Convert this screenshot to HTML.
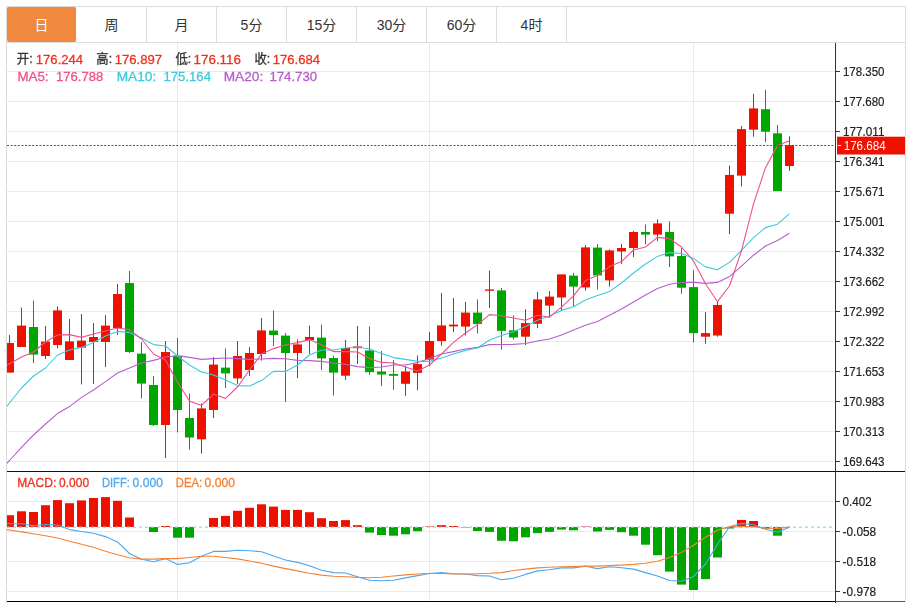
<!DOCTYPE html>
<html lang="zh-CN"><head><meta charset="utf-8"><title>K线图</title>
<style>
html,body{margin:0;padding:0;background:#fff}
body{width:910px;height:603px;position:relative;overflow:hidden;font-family:"Liberation Sans","Noto Sans CJK SC",sans-serif}
.tabs{position:absolute;left:6px;top:6px;width:898px;height:35px;border:1px solid #dcdcdc;background:#fff}
.tab{float:left;width:69px;height:34px;padding-top:1px;line-height:34px;border-right:1px solid #dcdcdc;text-align:center;font-size:14px;color:#333}
.tab.on{background:#f0883e;color:#fff;border-right-color:#fff;border-radius:2px}
</style></head><body>
<div class="tabs"><div class="tab on">日</div><div class="tab">周</div><div class="tab">月</div><div class="tab">5分</div><div class="tab">15分</div><div class="tab">30分</div><div class="tab">60分</div><div class="tab">4时</div></div>
<svg width="910" height="603" viewBox="0 0 910 603" style="position:absolute;left:0;top:0;will-change:transform;font-family:'Liberation Sans','Noto Sans CJK SC',sans-serif"><defs><clipPath id="cm"><rect x="7" y="43" width="828" height="428"/></clipPath><clipPath id="cd"><rect x="7" y="472" width="828" height="129"/></clipPath></defs><g fill="#e0ebf2" shape-rendering="crispEdges"><rect x="7" y="71" width="828" height="1"/><rect x="7" y="101" width="828" height="1"/><rect x="7" y="131" width="828" height="1"/><rect x="7" y="161" width="828" height="1"/><rect x="7" y="191" width="828" height="1"/><rect x="7" y="221" width="828" height="1"/><rect x="7" y="251" width="828" height="1"/><rect x="7" y="281" width="828" height="1"/><rect x="7" y="311" width="828" height="1"/><rect x="7" y="341" width="828" height="1"/><rect x="7" y="371" width="828" height="1"/><rect x="7" y="401" width="828" height="1"/><rect x="7" y="431" width="828" height="1"/><rect x="7" y="461" width="828" height="1"/><rect x="7" y="501" width="828" height="1"/><rect x="7" y="531" width="828" height="1"/><rect x="7" y="561" width="828" height="1"/><rect x="7" y="591" width="828" height="1"/><rect x="177" y="43" width="1" height="428"/><rect x="177" y="472" width="1" height="129"/><rect x="429" y="43" width="1" height="428"/><rect x="429" y="472" width="1" height="129"/><rect x="693" y="43" width="1" height="428"/><rect x="693" y="472" width="1" height="129"/></g>
<g clip-path="url(#cm)"><g fill="#ee1100"><rect x="9" y="335" width="1" height="37.6"/><rect x="5" y="343" width="9" height="29.6"/><rect x="21" y="307.6" width="1" height="39.4"/><rect x="17" y="325.6" width="9" height="21.4"/><rect x="45" y="326" width="1" height="33"/><rect x="41" y="341.6" width="9" height="14.4"/><rect x="57" y="306.4" width="1" height="42"/><rect x="53" y="310.4" width="9" height="34.6"/><rect x="69" y="319" width="1" height="41"/><rect x="65" y="341.4" width="9" height="18.6"/><rect x="81" y="314" width="1" height="70.4"/><rect x="77" y="340.6" width="9" height="7"/><rect x="93" y="323" width="1" height="61"/><rect x="89" y="337" width="9" height="5"/><rect x="105" y="315" width="1" height="52"/><rect x="101" y="325.6" width="9" height="16.4"/><rect x="117" y="284" width="1" height="51"/><rect x="113" y="294" width="9" height="34"/><rect x="165" y="341" width="1" height="117"/><rect x="161" y="352" width="9" height="73"/><rect x="201" y="403.5" width="1" height="50.1"/><rect x="197" y="408.4" width="9" height="30.9"/><rect x="213" y="357" width="1" height="61"/><rect x="209" y="364.6" width="9" height="45.4"/><rect x="237" y="341" width="1" height="43"/><rect x="233" y="356" width="9" height="22.4"/><rect x="249" y="347" width="1" height="29"/><rect x="245" y="353" width="9" height="17"/><rect x="261" y="318" width="1" height="42.6"/><rect x="257" y="330.4" width="9" height="23.6"/><rect x="297" y="339.4" width="1" height="38.6"/><rect x="293" y="344.4" width="9" height="8.6"/><rect x="309" y="325.6" width="1" height="28.4"/><rect x="305" y="337" width="9" height="3"/><rect x="345" y="340" width="1" height="39.8"/><rect x="341" y="348" width="9" height="27.7"/><rect x="357" y="326" width="1" height="38"/><rect x="353" y="346.4" width="9" height="1.8"/><rect x="405" y="366" width="1" height="29.8"/><rect x="401" y="371.5" width="9" height="12.3"/><rect x="417" y="355.5" width="1" height="34.7"/><rect x="413" y="364.1" width="9" height="8.8"/><rect x="429" y="332" width="1" height="34.3"/><rect x="425" y="341" width="9" height="18.6"/><rect x="441" y="293" width="1" height="52.6"/><rect x="437" y="325.4" width="9" height="15.6"/><rect x="453" y="298" width="1" height="34"/><rect x="449" y="324.6" width="9" height="1.8"/><rect x="465" y="302" width="1" height="33.6"/><rect x="461" y="312.6" width="9" height="14"/><rect x="489" y="270.6" width="1" height="37.4"/><rect x="485" y="289.4" width="9" height="1.4"/><rect x="525" y="309.2" width="1" height="35.8"/><rect x="521" y="323.1" width="9" height="13.6"/><rect x="537" y="291.8" width="1" height="36.2"/><rect x="533" y="299.4" width="9" height="24.4"/><rect x="549" y="291" width="1" height="26.6"/><rect x="545" y="296.6" width="9" height="9"/><rect x="561" y="274.4" width="1" height="35.6"/><rect x="557" y="274.4" width="9" height="23.1"/><rect x="585" y="245" width="1" height="45.6"/><rect x="581" y="247.4" width="9" height="40"/><rect x="609" y="249.4" width="1" height="37.2"/><rect x="605" y="250.4" width="9" height="30"/><rect x="621" y="244" width="1" height="20"/><rect x="617" y="248" width="9" height="3.4"/><rect x="633" y="231" width="1" height="26"/><rect x="629" y="232" width="9" height="16"/><rect x="657" y="219.4" width="1" height="21.6"/><rect x="653" y="223.4" width="9" height="11.2"/><rect x="705" y="312.2" width="1" height="31.6"/><rect x="701" y="333.1" width="9" height="3.6"/><rect x="717" y="301.7" width="1" height="35"/><rect x="713" y="305" width="9" height="30.5"/><rect x="729" y="165.6" width="1" height="68.4"/><rect x="725" y="174.9" width="9" height="38.8"/><rect x="741" y="126" width="1" height="60.4"/><rect x="737" y="129.1" width="9" height="46.5"/><rect x="753" y="93.9" width="1" height="42.8"/><rect x="749" y="108.4" width="9" height="21.3"/><rect x="789" y="136.3" width="1" height="34.6"/><rect x="785" y="145.2" width="9" height="20.8"/></g><g fill="#00a600"><rect x="33" y="300.6" width="1" height="62.4"/><rect x="29" y="327" width="9" height="27.6"/><rect x="129" y="271" width="1" height="82"/><rect x="125" y="283" width="9" height="69"/><rect x="141" y="342" width="1" height="56.4"/><rect x="137" y="353.6" width="9" height="30"/><rect x="153" y="376" width="1" height="50"/><rect x="149" y="385" width="9" height="40"/><rect x="177" y="338" width="1" height="94.4"/><rect x="173" y="356" width="9" height="54"/><rect x="189" y="393.5" width="1" height="56.2"/><rect x="185" y="418" width="9" height="19.5"/><rect x="225" y="348.4" width="1" height="39.6"/><rect x="221" y="367.6" width="9" height="5.8"/><rect x="273" y="310.4" width="1" height="35.6"/><rect x="269" y="330.6" width="9" height="4.4"/><rect x="285" y="333" width="1" height="69"/><rect x="281" y="335.6" width="9" height="17.4"/><rect x="321" y="324.6" width="1" height="45.4"/><rect x="317" y="337.6" width="9" height="20.8"/><rect x="333" y="355.6" width="1" height="40"/><rect x="329" y="358" width="9" height="14.6"/><rect x="369" y="326.4" width="1" height="48.5"/><rect x="365" y="350.5" width="9" height="21.7"/><rect x="381" y="351" width="1" height="35.2"/><rect x="377" y="371.5" width="9" height="3"/><rect x="393" y="360.2" width="1" height="29.6"/><rect x="389" y="374" width="9" height="1.8"/><rect x="477" y="299.4" width="1" height="34.2"/><rect x="473" y="312.6" width="9" height="11.4"/><rect x="501" y="288" width="1" height="61.7"/><rect x="497" y="290.4" width="9" height="40.4"/><rect x="513" y="315.3" width="1" height="24.2"/><rect x="509" y="330.3" width="9" height="7.2"/><rect x="573" y="273" width="1" height="33.6"/><rect x="569" y="275.6" width="9" height="11"/><rect x="597" y="244" width="1" height="45.6"/><rect x="593" y="247.6" width="9" height="27.8"/><rect x="645" y="224.4" width="1" height="20"/><rect x="641" y="232" width="9" height="2.6"/><rect x="669" y="221.4" width="1" height="45.6"/><rect x="665" y="232" width="9" height="24.4"/><rect x="681" y="248" width="1" height="45.7"/><rect x="677" y="256" width="9" height="31.7"/><rect x="693" y="270.2" width="1" height="72.2"/><rect x="689" y="287.1" width="9" height="46"/><rect x="765" y="89.9" width="1" height="52.1"/><rect x="761" y="109.2" width="9" height="22.5"/><rect x="777" y="125" width="1" height="66.1"/><rect x="773" y="133.3" width="9" height="57.8"/></g></g>
<g clip-path="url(#cm)"><polyline points="-2.5,473 9.5,460.5 21.5,447.4 33.5,435 45.5,424 57.5,413.6 69.5,406.6 81.5,397.4 93.5,390 105.5,381.6 117.5,373 129.5,368 141.5,363 153.5,360.4 165.5,357 177.5,355.6 189.5,357.4 201.5,359.4 213.5,358.6 225.5,358 237.5,358.6 249.5,359.4 261.5,359 273.5,358.4 285.5,358.8 297.5,360.4 309.5,360.6 321.5,361.4 333.5,363 345.5,364.2 357.5,366.6 369.5,367.6 381.5,367 393.5,365 405.5,365 417.5,362.6 429.5,358.6 441.5,354 453.5,351.6 465.5,349 477.5,347.4 489.5,344.6 501.5,344.5 513.5,344.4 525.5,343.5 537.5,341 549.5,339 561.5,334.9 573.5,330.1 585.5,325.3 597.5,321.5 609.5,315.3 621.5,309 633.5,302 645.5,295 657.5,288.4 669.5,284.3 681.5,282.5 693.5,282.4 705.5,283.4 717.5,282.4 729.5,276.6 741.5,266.1 753.5,255.2 765.5,246 777.5,240.5 789.5,233.2" fill="none" stroke="#b560cc" stroke-width="1.1" stroke-linejoin="round"/><polyline points="-2.5,418 9.5,403 21.5,388 33.5,376 45.5,368 57.5,355 69.5,350 81.5,347.4 93.5,342.4 105.5,336 117.5,331.4 129.5,332.4 141.5,338 153.5,344.6 165.5,346 177.5,356 189.5,365 201.5,372 213.5,375 225.5,380 237.5,385.6 249.5,386 261.5,380.6 273.5,371.4 285.5,371.4 297.5,365 309.5,355 321.5,350 333.5,350 345.5,348 357.5,347 369.5,349 381.5,353.6 393.5,357.6 405.5,359.4 417.5,361.4 429.5,361.4 441.5,358 453.5,354 465.5,350.4 477.5,348 489.5,340 501.5,335.6 513.5,331.7 525.5,326.5 537.5,320.2 549.5,316 561.5,310.4 573.5,306.8 585.5,300 597.5,295.4 609.5,291.6 621.5,283 633.5,273 645.5,264 657.5,256.4 669.5,252.6 681.5,253.5 693.5,258.4 705.5,266.9 717.5,269.8 729.5,262.4 741.5,250.3 753.5,237.6 765.5,227.6 777.5,224.2 789.5,213.7" fill="none" stroke="#3ccadf" stroke-width="1.1" stroke-linejoin="round"/><polyline points="-2.5,370 9.5,363.7 21.5,357 33.5,352 45.5,342 57.5,335 69.5,334.6 81.5,337.4 93.5,334 105.5,331 117.5,328 129.5,329.6 141.5,339 153.5,354 165.5,360 177.5,382.3 189.5,401 201.5,405.4 213.5,394 225.5,398.4 237.5,387 249.5,370 261.5,354 273.5,348.6 285.5,345 297.5,342.6 309.5,339.6 321.5,345 333.5,351.6 345.5,351.6 357.5,352 369.5,358.6 381.5,362.4 393.5,363 405.5,367 417.5,371 429.5,365 441.5,354 453.5,342.4 465.5,333 477.5,324.6 489.5,314.6 501.5,315.8 513.5,318 525.5,320.2 537.5,315.3 549.5,317.2 561.5,307.2 573.5,295.8 585.5,280.6 597.5,275.4 609.5,266.6 621.5,261.6 633.5,250 645.5,247 657.5,237.4 669.5,238.6 681.5,247 693.5,261 705.5,283.8 717.5,301.7 729.5,286 741.5,250.7 753.5,203.8 765.5,167.7 777.5,145.6 789.5,140.7" fill="none" stroke="#f0508a" stroke-width="1.1" stroke-linejoin="round"/></g>
<g clip-path="url(#cd)"><g fill="#ee1100"><rect x="5" y="515.2" width="9" height="11.8"/><rect x="17" y="511.3" width="9" height="15.7"/><rect x="29" y="512" width="9" height="15"/><rect x="41" y="505.2" width="9" height="21.8"/><rect x="53" y="500.1" width="9" height="26.9"/><rect x="65" y="503.2" width="9" height="23.8"/><rect x="77" y="500.4" width="9" height="26.6"/><rect x="89" y="498" width="9" height="29"/><rect x="101" y="497.1" width="9" height="29.9"/><rect x="113" y="500.8" width="9" height="26.2"/><rect x="125" y="517.5" width="9" height="9.5"/><rect x="161" y="526" width="9" height="1"/><rect x="209" y="518" width="9" height="9"/><rect x="221" y="515.9" width="9" height="11.1"/><rect x="233" y="510.8" width="9" height="16.2"/><rect x="245" y="507.8" width="9" height="19.2"/><rect x="257" y="504.3" width="9" height="22.7"/><rect x="269" y="506.6" width="9" height="20.4"/><rect x="281" y="509.9" width="9" height="17.1"/><rect x="293" y="509.9" width="9" height="17.1"/><rect x="305" y="512.2" width="9" height="14.8"/><rect x="317" y="518.2" width="9" height="8.8"/><rect x="329" y="521" width="9" height="6"/><rect x="341" y="520.1" width="9" height="6.9"/><rect x="353" y="525.2" width="9" height="1.8"/><rect x="425" y="526.5" width="9" height="0.5"/><rect x="437" y="525.2" width="9" height="1.8"/><rect x="449" y="526" width="9" height="1"/><rect x="581" y="526.5" width="9" height="0.5"/><rect x="737" y="519.9" width="9" height="7.1"/><rect x="749" y="521" width="9" height="6"/></g><g fill="#00a600"><rect x="149" y="527" width="9" height="5"/><rect x="173" y="527" width="9" height="10.7"/><rect x="185" y="527" width="9" height="10.7"/><rect x="365" y="527" width="9" height="5.6"/><rect x="377" y="527" width="9" height="8"/><rect x="389" y="527" width="9" height="8.7"/><rect x="401" y="527" width="9" height="7.3"/><rect x="413" y="527" width="9" height="4.2"/><rect x="461" y="527" width="9" height="0.5"/><rect x="473" y="527" width="9" height="4"/><rect x="485" y="527" width="9" height="4.9"/><rect x="497" y="527" width="9" height="13.8"/><rect x="509" y="527" width="9" height="14.3"/><rect x="521" y="527" width="9" height="10.3"/><rect x="533" y="527" width="9" height="6.1"/><rect x="545" y="527" width="9" height="4.9"/><rect x="557" y="527" width="9" height="2.6"/><rect x="569" y="527" width="9" height="3.3"/><rect x="593" y="527" width="9" height="4.5"/><rect x="605" y="527" width="9" height="2.9"/><rect x="617" y="527" width="9" height="5.2"/><rect x="629" y="527" width="9" height="8.7"/><rect x="641" y="527" width="9" height="17.7"/><rect x="653" y="527" width="9" height="28.2"/><rect x="665" y="527" width="9" height="44.6"/><rect x="677" y="527" width="9" height="57.6"/><rect x="689" y="527" width="9" height="63"/><rect x="701" y="527" width="9" height="52.1"/><rect x="713" y="527" width="9" height="30.5"/><rect x="725" y="527" width="9" height="1.5"/><rect x="761" y="527" width="9" height="1.5"/><rect x="773" y="527" width="9" height="8.7"/></g></g>
<line x1="7" y1="527.2" x2="833" y2="527.2" stroke="#93d2f2" stroke-width="1.2" stroke-dasharray="3,3"/>
<g clip-path="url(#cd)"><polyline points="-2.5,523.8 9.5,523.8 21.5,523.8 33.5,525.7 45.5,524.5 57.5,525 69.5,529.6 81.5,531.5 93.5,533.3 105.5,536.6 117.5,541.9 129.5,553.5 141.5,559.3 153.5,561.7 165.5,558.6 177.5,564.4 189.5,562.8 201.5,556.3 213.5,551.4 225.5,551.4 237.5,550.3 249.5,550.7 261.5,551.7 273.5,555.9 285.5,560 297.5,562.4 309.5,565.8 321.5,570.2 333.5,572.6 345.5,573 357.5,576.7 369.5,580.2 381.5,580.7 393.5,580.2 405.5,577.9 417.5,575.6 429.5,573.5 441.5,572.6 453.5,573.7 465.5,574 477.5,575.6 489.5,576 501.5,579.8 513.5,578.2 525.5,574.4 537.5,570.9 549.5,569.8 561.5,567.9 573.5,567.9 585.5,566.3 597.5,568.6 609.5,566.8 621.5,567.7 633.5,569.1 645.5,572.6 657.5,576 669.5,580.5 681.5,581.2 693.5,576.5 705.5,564 717.5,544.2 729.5,526.8 741.5,523.4 753.5,524.7 765.5,529.2 777.5,532.2 789.5,527.3" fill="none" stroke="#4da7ef" stroke-width="1.1" stroke-linejoin="round"/><polyline points="-2.5,528 9.5,530 21.5,531.9 33.5,533.8 45.5,535.7 57.5,538 69.5,541.2 81.5,544.2 93.5,547.3 105.5,551.2 117.5,554.7 129.5,557.7 141.5,559.1 153.5,559.1 165.5,558.6 177.5,558.6 189.5,557.5 201.5,556.3 213.5,556.3 225.5,557.5 237.5,558.9 249.5,561 261.5,563.3 273.5,566.1 285.5,568.6 297.5,570.9 309.5,573.3 321.5,575.1 333.5,576.3 345.5,576.7 357.5,577.4 369.5,577.7 381.5,577.2 393.5,576 405.5,574.9 417.5,574 429.5,573.5 441.5,573.5 453.5,574 465.5,574 477.5,573.7 489.5,573.3 501.5,572.6 513.5,570.5 525.5,569.1 537.5,567.9 549.5,567.2 561.5,566.8 573.5,566.5 585.5,566.1 597.5,566.1 609.5,565.6 621.5,565.1 633.5,564.4 645.5,563.3 657.5,561.2 669.5,557.5 681.5,552.4 693.5,545.2 705.5,537.3 717.5,530.3 729.5,526.8 741.5,526.4 753.5,526.8 765.5,528.2 777.5,528.5 789.5,527.1" fill="none" stroke="#f58233" stroke-width="1.1" stroke-linejoin="round"/></g>
<line x1="7" y1="145.5" x2="834" y2="145.5" stroke="#ee1100" stroke-width="1" stroke-dasharray="2,1.6"/>
<g shape-rendering="crispEdges"><rect x="6" y="43" width="1" height="560" fill="#d9d9d9"/><rect x="905" y="43" width="1" height="559" fill="#dcdcdc"/><rect x="7" y="471" width="898" height="1" fill="#111"/><rect x="7" y="601" width="829" height="1" fill="#000"/><rect x="836" y="601" width="69" height="1" fill="#555"/><rect x="835" y="43" width="1" height="560" fill="#333"/></g>
<g fill="#333" shape-rendering="crispEdges"><rect x="836" y="71" width="4" height="1"/><rect x="836" y="101" width="4" height="1"/><rect x="836" y="131" width="4" height="1"/><rect x="836" y="161" width="4" height="1"/><rect x="836" y="191" width="4" height="1"/><rect x="836" y="221" width="4" height="1"/><rect x="836" y="251" width="4" height="1"/><rect x="836" y="281" width="4" height="1"/><rect x="836" y="311" width="4" height="1"/><rect x="836" y="341" width="4" height="1"/><rect x="836" y="371" width="4" height="1"/><rect x="836" y="401" width="4" height="1"/><rect x="836" y="431" width="4" height="1"/><rect x="836" y="461" width="4" height="1"/><rect x="836" y="501" width="4" height="1"/><rect x="836" y="531" width="4" height="1"/><rect x="836" y="561" width="4" height="1"/><rect x="836" y="591" width="4" height="1"/></g>
<g fill="#222" stroke="#222" stroke-width="0.2" font-size="12.4"><text x="842.9" y="75.7" textLength="41.6" lengthAdjust="spacingAndGlyphs">178.350</text><text x="842.9" y="105.7" textLength="41.6" lengthAdjust="spacingAndGlyphs">177.680</text><text x="842.9" y="135.7" textLength="41.6" lengthAdjust="spacingAndGlyphs">177.011</text><text x="842.9" y="165.7" textLength="41.6" lengthAdjust="spacingAndGlyphs">176.341</text><text x="842.9" y="195.7" textLength="41.6" lengthAdjust="spacingAndGlyphs">175.671</text><text x="842.9" y="225.7" textLength="41.6" lengthAdjust="spacingAndGlyphs">175.001</text><text x="842.9" y="255.7" textLength="41.6" lengthAdjust="spacingAndGlyphs">174.332</text><text x="842.9" y="285.7" textLength="41.6" lengthAdjust="spacingAndGlyphs">173.662</text><text x="842.9" y="315.7" textLength="41.6" lengthAdjust="spacingAndGlyphs">172.992</text><text x="842.9" y="345.7" textLength="41.6" lengthAdjust="spacingAndGlyphs">172.322</text><text x="842.9" y="375.7" textLength="41.6" lengthAdjust="spacingAndGlyphs">171.653</text><text x="842.9" y="405.7" textLength="41.6" lengthAdjust="spacingAndGlyphs">170.983</text><text x="842.9" y="435.7" textLength="41.6" lengthAdjust="spacingAndGlyphs">170.313</text><text x="842.9" y="465.7" textLength="41.6" lengthAdjust="spacingAndGlyphs">169.643</text><text x="842.6" y="505.5" textLength="29.2" lengthAdjust="spacingAndGlyphs">0.402</text><text x="842.6" y="535.5" textLength="33.5" lengthAdjust="spacingAndGlyphs">-0.058</text><text x="842.6" y="565.5" textLength="33.5" lengthAdjust="spacingAndGlyphs">-0.518</text><text x="842.6" y="595.5" textLength="33.5" lengthAdjust="spacingAndGlyphs">-0.978</text></g>
<rect x="837" y="136.7" width="68" height="17.8" fill="#ee1100"/><rect x="837.6" y="145" width="3.4" height="1" fill="#fff"/><text x="843.7" y="149.8" textLength="42" lengthAdjust="spacingAndGlyphs" fill="#fff" font-size="12.4">176.684</text>
<g font-size="13"><text x="16.8" y="63" fill="#333" stroke="#333" stroke-width="0.3" textLength="15.8" lengthAdjust="spacingAndGlyphs">开:</text><text x="35.8" y="63.8" fill="#f0301e" stroke="#f0301e" stroke-width="0.3" textLength="47.3" lengthAdjust="spacingAndGlyphs">176.244</text><text x="96.3" y="63" fill="#333" stroke="#333" stroke-width="0.3" textLength="15.8" lengthAdjust="spacingAndGlyphs">高:</text><text x="114.7" y="63.8" fill="#f0301e" stroke="#f0301e" stroke-width="0.3" textLength="47.3" lengthAdjust="spacingAndGlyphs">176.897</text><text x="175.4" y="63" fill="#333" stroke="#333" stroke-width="0.3" textLength="15.8" lengthAdjust="spacingAndGlyphs">低:</text><text x="193.6" y="63.8" fill="#f0301e" stroke="#f0301e" stroke-width="0.3" textLength="47.3" lengthAdjust="spacingAndGlyphs">176.116</text><text x="254.5" y="63" fill="#333" stroke="#333" stroke-width="0.3" textLength="15.8" lengthAdjust="spacingAndGlyphs">收:</text><text x="272.7" y="63.8" fill="#f0301e" stroke="#f0301e" stroke-width="0.3" textLength="47.3" lengthAdjust="spacingAndGlyphs">176.684</text><text x="17.4" y="81.3" fill="#f0508a" stroke="#f0508a" stroke-width="0.3" textLength="31.1" lengthAdjust="spacingAndGlyphs">MA5:</text><text x="56" y="81.3" fill="#f0508a" stroke="#f0508a" stroke-width="0.3" textLength="47.2" lengthAdjust="spacingAndGlyphs">176.788</text><text x="116.7" y="81.3" fill="#3ccadf" stroke="#3ccadf" stroke-width="0.3" textLength="39.5" lengthAdjust="spacingAndGlyphs">MA10:</text><text x="163.4" y="81.3" fill="#3ccadf" stroke="#3ccadf" stroke-width="0.3" textLength="47.6" lengthAdjust="spacingAndGlyphs">175.164</text><text x="223.7" y="81.3" fill="#b560cc" stroke="#b560cc" stroke-width="0.3" textLength="39.5" lengthAdjust="spacingAndGlyphs">MA20:</text><text x="269.4" y="81.3" fill="#b560cc" stroke="#b560cc" stroke-width="0.3" textLength="47.8" lengthAdjust="spacingAndGlyphs">174.730</text></g><g font-size="12.3"><text x="17.25" y="487" fill="#f0301e" stroke="#f0301e" stroke-width="0.3" textLength="39" lengthAdjust="spacingAndGlyphs">MACD:</text><text x="59.1" y="487" fill="#f0301e" stroke="#f0301e" stroke-width="0.3" textLength="30" lengthAdjust="spacingAndGlyphs">0.000</text><text x="101.9" y="487" fill="#4da7ef" stroke="#4da7ef" stroke-width="0.3" textLength="28" lengthAdjust="spacingAndGlyphs">DIFF:</text><text x="132.6" y="487" fill="#4da7ef" stroke="#4da7ef" stroke-width="0.3" textLength="30.3" lengthAdjust="spacingAndGlyphs">0.000</text><text x="175.8" y="487" fill="#f58233" stroke="#f58233" stroke-width="0.3" textLength="26.3" lengthAdjust="spacingAndGlyphs">DEA:</text><text x="204.6" y="487" fill="#f58233" stroke="#f58233" stroke-width="0.3" textLength="30.5" lengthAdjust="spacingAndGlyphs">0.000</text></g></svg>
</body></html>
